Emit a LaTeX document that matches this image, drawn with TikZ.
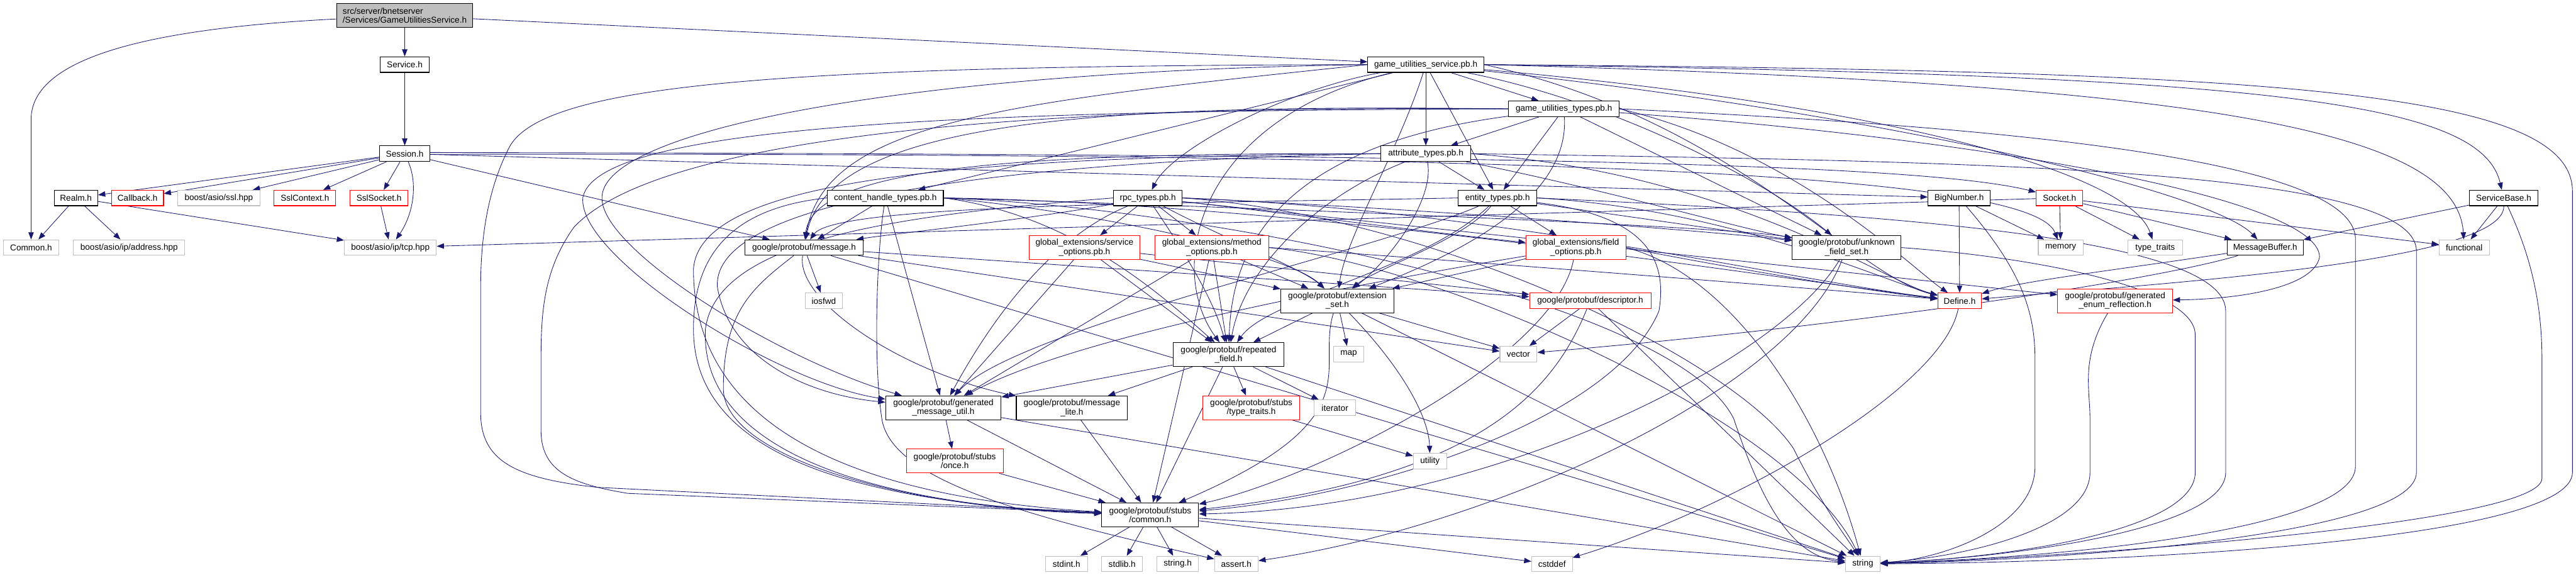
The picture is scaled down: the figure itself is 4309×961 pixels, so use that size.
\documentclass[tikz,border=0pt]{standalone}
\usepackage{fontspec}
\usetikzlibrary{arrows.meta}
\newfontfamily\nf{Liberation Sans}
\definecolor{eb}{HTML}{191970}
\definecolor{gb}{HTML}{BFBFBF}
\definecolor{rb}{HTML}{FF0000}
\pgfdeclarelayer{bg}
\pgfsetlayers{bg,main}
\tikzset{
  bx/.style={draw=black, fill=white, line width=1.1pt, minimum height=26pt, inner sep=0pt, align=center, font=\nf\fontsize{14.3pt}{15pt}\selectfont},
  tall/.style={minimum height=40pt},
  rbx/.style={bx, draw=rb},
  gbx/.style={bx, draw=gb},
  rootbx/.style={bx, fill=gb, align=left},
  e/.style={draw=eb, line width=0.9pt, -{Triangle[length=12pt,width=9pt]}}
}
\begin{document}
\begin{tikzpicture}[x=1pt,y=1pt]
\useasboundingbox (0,0) rectangle (4309,-961);
% nodes
\node[rootbx,tall,minimum width=228pt] (R) at (677,-26) {src/server/bnetserver\\/Services/GameUtilitiesService.h};
\node[bx,minimum width=82pt] (service) at (677,-108) {Service.h};
\node[bx,minimum width=84pt] (session) at (677,-257) {Session.h};
\node[bx,minimum width=73pt] (realm) at (127,-331) {Realm.h};
\node[rbx,minimum width=87pt] (callback) at (230,-331) {Callback.h};
\node[gbx,minimum width=138pt] (ssl) at (366,-331) {boost/asio/ssl.hpp};
\node[rbx,minimum width=103pt] (sslctx) at (510,-331) {SslContext.h};
\node[rbx,minimum width=97pt] (sslsock) at (634,-331) {SslSocket.h};
\node[gbx,minimum width=92pt] (common) at (52,-414) {Common.h};
\node[gbx,minimum width=186pt] (addr) at (216,-414) {boost/asio/ip/address.hpp};
\node[gbx,minimum width=154pt] (tcp) at (653,-414) {boost/asio/ip/tcp.hpp};
\node[bx,minimum width=194pt] (cht) at (1481,-331) {content\_handle\_types.pb.h};
\node[bx,minimum width=115pt] (rpc) at (1920,-331) {rpc\_types.pb.h};
\node[bx,minimum width=198pt] (msg) at (1345,-414) {google/protobuf/message.h};
\node[rbx,tall,minimum width=185pt] (so) at (1814,-414) {global\_extensions/service\\\_options.pb.h};
\node[rbx,tall,minimum width=191pt] (mo) at (2027,-414) {global\_extensions/method\\\_options.pb.h};
\node[bx,minimum width=194pt] (gus) at (2385,-108) {game\_utilities\_service.pb.h};
\node[bx,minimum width=185pt] (gut) at (2616,-182) {game\_utilities\_types.pb.h};
\node[bx,minimum width=151pt] (at) at (2385,-257) {attribute\_types.pb.h};
\node[bx,minimum width=131pt] (et) at (2505,-331) {entity\_types.pb.h};
\node[rbx,tall,minimum width=167pt] (fo) at (2636,-414) {global\_extensions/field\\\_options.pb.h};
\node[bx,tall,minimum width=182pt] (ufs) at (3089,-414) {google/protobuf/unknown\\\_field\_set.h};
\node[bx,minimum width=104pt] (bign) at (3277,-331) {BigNumber.h};
\node[rbx,minimum width=78pt] (sock) at (3445,-331) {Socket.h};
\node[bx,minimum width=114pt] (sbase) at (4188,-331) {ServiceBase.h};
\node[gbx,minimum width=75pt] (memory) at (3447,-414) {memory};
\node[gbx,minimum width=91pt] (ttraits) at (3605,-414) {type\_traits};
\node[bx,minimum width=127pt] (mbuf) at (3789,-414) {MessageBuffer.h};
\node[gbx,minimum width=84pt] (functional) at (4122,-414) {functional};
\node[gbx,minimum width=62pt] (iosfwd) at (1378,-503) {iosfwd};
\node[bx,tall,minimum width=189pt] (es) at (2237,-503) {google/protobuf/extension\\\_set.h};
\node[rbx,minimum width=203pt] (desc) at (2660,-503) {google/protobuf/descriptor.h};
\node[rbx,minimum width=73pt] (define) at (3278,-503) {Define.h};
\node[rbx,tall,minimum width=192pt] (ger) at (3538,-503) {google/protobuf/generated\\\_enum\_reflection.h};
\node[bx,tall,minimum width=186pt] (rf) at (2055,-593) {google/protobuf/repeated\\\_field.h};
\node[gbx,minimum width=51pt] (map) at (2256,-592) {map};
\node[gbx,minimum width=62pt] (vector) at (2540,-592) {vector};
\node[bx,tall,minimum width=193pt] (gmu) at (1578,-682) {google/protobuf/generated\\\_message\_util.h};
\node[bx,tall,minimum width=186pt] (ml) at (1793,-682) {google/protobuf/message\\\_lite.h};
\node[rbx,tall,minimum width=162pt] (sttraits) at (2093,-682) {google/protobuf/stubs\\/type\_traits.h};
\node[gbx,minimum width=69pt] (iterator) at (2233,-682) {iterator};
\node[rbx,tall,minimum width=162pt] (once) at (1597,-771) {google/protobuf/stubs\\/once.h};
\node[gbx,minimum width=56pt] (utility) at (2392,-771) {utility};
\node[bx,tall,minimum width=162pt] (cmn) at (1924,-861) {google/protobuf/stubs\\/common.h};
\node[gbx,minimum width=70pt] (stdint) at (1784,-943) {stdint.h};
\node[gbx,minimum width=68pt] (stdlib) at (1877,-943) {stdlib.h};
\node[gbx,minimum width=69pt] (stringh) at (1970,-943) {string.h};
\node[gbx,minimum width=73pt] (assert) at (2068,-943) {assert.h};
\node[gbx,minimum width=68pt] (cstddef) at (2596,-943) {cstddef};
\node[gbx,minimum width=58pt] (string) at (3116,-943) {string};
% edges
\begin{pgfonlayer}{bg}
\fill[white] (0,0) rectangle (4309,-961);
% root
\draw[e] (R) .. controls (200,-50) and (52,-110) .. (52,-200) -- (common);
\draw[e] (R) -- (service);
\draw[e] (R) -- (gus);
\draw[e] (service) -- (session);
% Session
\draw[e] (session) -- (realm);
\draw[e] (session) -- (callback);
\draw[e] (session) -- (ssl);
\draw[e] (session) -- (sslctx);
\draw[e] (session) -- (sslsock);
\draw[e] (session) .. controls (700,-310) and (690,-360) .. (tcp);
\draw[e] (session) -- (msg);
\draw[e] (session) -- (bign);
\draw[e] ([yshift=2pt]session.east) .. controls (2400,-258) and (3200,-270) .. (sock);
\draw[e] ([yshift=-1pt]session.east) .. controls (2600,-255) and (3400,-290) .. (memory);
% Realm, SslSocket, Socket
\draw[e] (realm) -- (common);
\draw[e] (realm) -- (addr);
\draw[e] (realm) -- (tcp);
\draw[e] (sslsock) -- (tcp);
\draw[e] (sock) -- (tcp);
\draw[e] (sock) -- (memory);
\draw[e] (sock) -- (ttraits);
\draw[e] (sock) -- (mbuf);
\draw[e] (sock) -- (functional);
% BigNumber
\draw[e] (bign) -- (memory);
\draw[e] (bign) -- (define);
\draw[e] (bign) .. controls (3380,-450) and (3404,-520) .. (3404,-600) -- (3404,-780) .. controls (3404,-880) and (3250,-935) .. (string);
% ServiceBase
\draw[e] (sbase) -- (mbuf);
\draw[e] (sbase) -- (functional);
\draw[e] (sbase) .. controls (4190,-440) and (3600,-475) .. (define);
\draw[e] (sbase) .. controls (4230,-420) and (4252,-500) .. (4252,-600) -- (4252,-800) .. controls (4252,-880) and (3400,-935) .. (string);
% MessageBuffer
\draw[e] (mbuf) .. controls (3550,-450) and (3380,-470) .. (define);
\draw[e] (mbuf) .. controls (3600,-470) and (3100,-545) .. (vector);
% gus
\draw[e] (gus) -- (gut);
\draw[e] (gus) -- (at);
\draw[e] (gus) -- (et);
\draw[e] (gus) -- (cht);
\draw[e] (gus) .. controls (2150,-150) and (1960,-250) .. (rpc);
\draw[e] (gus) .. controls (2700,-170) and (2950,-300) .. (ufs);
\draw[e] (gus.east) .. controls (3800,-125) and (4150,-170) .. (sbase);
\draw[e] (gus.east) .. controls (3700,-140) and (4110,-220) .. (functional);
\draw[e] (gus) .. controls (3100,-170) and (3560,-280) .. (ttraits);
\draw[e] (gus) .. controls (3150,-190) and (3700,-320) .. (mbuf);
\draw[e] (gus.east) .. controls (3800,-118) and (4303,-150) .. (4303,-320) -- (4303,-790) .. controls (4303,-900) and (3600,-940) .. (string);
\draw[e] (gus.west) .. controls (1300,-110) and (900,-140) .. (850,-250) .. controls (815,-320) and (804,-400) .. (804,-480) -- (804,-690) .. controls (804,-770) and (860,-800) .. (1000,-815) -- (cmn);
\draw[e] (gus.west) .. controls (1700,-170) and (1380,-200) .. (msg);
\draw[e] (gus.west) .. controls (1500,-120) and (1000,-220) .. (1007,-333) .. controls (1010,-420) and (1300,-600) .. (gmu);
\draw[e] (gus) .. controls (2340,-250) and (2250,-400) .. (es);
\draw[e] (gus) .. controls (2000,-200) and (1950,-450) .. (rf);
\draw[e] (gus.east) .. controls (2900,-200) and (3100,-460) .. (define);
% gut
\draw[e] (gut) -- (at);
\draw[e] (gut) -- (et);
\draw[e] (gut) -- (ufs);
\draw[e] (gut) .. controls (2625,-330) and (2450,-420) .. (es);
\draw[e] (gut.west) .. controls (1900,-175) and (1390,-190) .. (msg);
\draw[e] (gut.west) .. controls (1600,-185) and (1000,-210) .. (975,-330) .. controls (965,-430) and (1300,-640) .. (gmu);
\draw[e] (gut.west) .. controls (1700,-175) and (1100,-230) .. (960,-380) .. controls (910,-450) and (905,-520) .. (905,-600) -- (905,-720) .. controls (905,-790) and (960,-810) .. (1050,-825) -- (cmn);
\draw[e] (gut) .. controls (2100,-250) and (2060,-450) .. (rf);
\draw[e] (gut.east) .. controls (3300,-210) and (3940,-260) .. (3940,-400) -- (3940,-780) .. controls (3940,-880) and (3500,-930) .. (string);
\draw[e] (gut) .. controls (3300,-230) and (3880,-330) .. (3880,-430) .. controls (3870,-480) and (3750,-500) .. (ger);
\draw[e] (gut.east) .. controls (3000,-250) and (3200,-450) .. (define);
% at
\draw[e] (at) -- (et);
\draw[e] (at) .. controls (2400,-330) and (2330,-430) .. (es);
\draw[e] (at) .. controls (2700,-320) and (2900,-380) .. (ufs);
\draw[e] (at.west) .. controls (1700,-255) and (1360,-280) .. (msg);
\draw[e] (at.west) .. controls (1600,-262) and (1170,-300) .. (1160,-450) .. controls (1160,-700) and (1400,-830) .. (cmn);
\draw[e] (at.west) .. controls (1700,-270) and (1190,-330) .. (1200,-480) .. controls (1220,-600) and (1350,-660) .. (gmu);
\draw[e] (at) .. controls (2200,-330) and (2080,-450) .. (rf);
\draw[e] (at.east) .. controls (3300,-270) and (4042,-280) .. (4042,-420) -- (4042,-790) .. controls (4042,-890) and (3500,-935) .. (string);
\draw[e] (at.east) .. controls (2900,-290) and (3150,-470) .. (define);
% et
\draw[e] (et) -- (fo);
\draw[e] (et) .. controls (2450,-400) and (2300,-450) .. (es);
\draw[e] (et) -- (ufs);
\draw[e] (et.west) .. controls (2000,-340) and (1400,-340) .. (msg);
\draw[e] (et) .. controls (2300,-420) and (1700,-550) .. (gmu);
\draw[e] (et) .. controls (2380,-450) and (2120,-500) .. (rf);
\draw[e] (et) .. controls (2750,-360) and (2790,-430) .. (2775,-520) .. controls (2700,-700) and (2300,-830) .. (cmn);
\draw[e] (et.east) .. controls (3200,-360) and (3723,-400) .. (3723,-520) -- (3723,-790) .. controls (3723,-880) and (3400,-930) .. (string);
\draw[e] (et.east) .. controls (2900,-350) and (3150,-470) .. (define);
% cht
\draw[e] (cht) -- (msg);
\draw[e] (cht) -- (gmu);
\draw[e] (cht.west) .. controls (1200,-350) and (1160,-450) .. (1160,-550) .. controls (1160,-750) and (1400,-840) .. (cmn);
\draw[e] (cht.east) .. controls (1800,-360) and (1950,-500) .. (rf);
\draw[e] (cht.east) .. controls (1800,-350) and (2150,-420) .. (es);
\draw[e] (cht.east) .. controls (2200,-350) and (2900,-380) .. (ufs);
\draw[e] (cht.east) .. controls (2200,-340) and (3000,-470) .. (define);
\draw[e] (cht.east) .. controls (2000,-345) and (2800,-500) .. (2900,-700) .. controls (2950,-850) and (3000,-930) .. (string);
\draw[e] (cht) .. controls (1467,-420) and (1460,-600) .. (1475,-700) .. controls (1490,-800) and (1700,-860) .. (assert);
% rpc
\draw[e] (rpc) -- (so);
\draw[e] (rpc) -- (mo);
\draw[e] (rpc) .. controls (2100,-350) and (2400,-390) .. (fo);
\draw[e] (rpc) .. controls (1700,-370) and (1500,-390) .. (msg);
\draw[e] (rpc) .. controls (1750,-400) and (1650,-550) .. (gmu);
\draw[e] (rpc.west) .. controls (1500,-360) and (1200,-400) .. (1180,-550) .. controls (1170,-750) and (1450,-845) .. (cmn);
\draw[e] (rpc) .. controls (1980,-420) and (2030,-500) .. (rf);
\draw[e] (rpc) .. controls (2050,-400) and (2180,-450) .. (es);
\draw[e] (rpc.east) .. controls (2400,-350) and (2900,-390) .. (ufs);
\draw[e] (rpc.east) .. controls (2500,-350) and (3000,-470) .. (define);
\draw[e] (rpc) -- (ger);
\draw[e] (rpc.east) .. controls (2400,-360) and (2900,-600) .. (3000,-750) .. controls (3050,-850) and (3090,-900) .. (string);
% extension pb files
\draw[e] (so) -- (gmu);
\draw[e] (so) -- (rf);
\draw[e] (so) -- (es);
\draw[e] (so) -- (desc);
\draw[e] (mo) -- (gmu);
\draw[e] (mo) -- (rf);
\draw[e] (mo) -- (es);
\draw[e] (mo) -- (cmn);
\draw[e] (mo.east) .. controls (2400,-440) and (3000,-700) .. (string);
\draw[e] (mo.east) .. controls (2500,-440) and (3000,-480) .. (define);
\draw[e] (fo) .. controls (2300,-470) and (1800,-560) .. (gmu);
\draw[e] (fo) -- (es);
\draw[e] (fo) .. controls (2600,-600) and (2200,-800) .. (cmn);
\draw[e] (fo.east) .. controls (2900,-450) and (3150,-490) .. (define);
\draw[e] (fo.east) .. controls (2900,-460) and (3050,-700) .. (string);
% message.h
\draw[e] (msg) -- (iosfwd);
\draw[e] (msg) .. controls (1330,-500) and (1500,-620) .. (ml);
\draw[e] (msg) .. controls (1260,-480) and (1210,-520) .. (1210,-650) .. controls (1210,-760) and (1500,-850) .. (cmn);
\draw[e] (msg) -- (vector);
\draw[e] (msg) -- (desc);
\draw[e] (msg) -- (string);
% lower nodes
\draw[e] (ml) -- (cmn);
\draw[e] (once) -- (cmn);
\draw[e] (gmu) -- (once);
\draw[e] (gmu) -- (cmn);
\draw[e] (gmu) -- (string);
\draw[e] (rf) -- (gmu);
\draw[e] (rf) -- (ml);
\draw[e] (rf) -- (sttraits);
\draw[e] (rf) -- (iterator);
\draw[e] (rf) -- (cmn);
\draw[e] (rf) -- (string);
\draw[e] (sttraits) -- (utility);
\draw[e] (es) -- (rf);
\draw[e] (es) -- (map);
\draw[e] (es) -- (vector);
\draw[e] (es) .. controls (2350,-620) and (2390,-700) .. (utility);
\draw[e] (es) -- (string);
\draw[e] (es) .. controls (2200,-620) and (2300,-700) .. (cmn);
\draw[e] (desc) -- (vector);
\draw[e] (desc) -- (string);
\draw[e] (desc) .. controls (2600,-650) and (2480,-800) .. (cmn);
\draw[e] (ufs) .. controls (2980,-600) and (2500,-850) .. (cmn);
\draw[e] (ufs) .. controls (3000,-650) and (2500,-880) .. (assert);
\draw[e] (ufs.east) .. controls (3400,-430) and (3672,-480) .. (3672,-560) -- (3672,-790) .. controls (3672,-880) and (3400,-930) .. (string);
\draw[e] (define) .. controls (3250,-650) and (2900,-850) .. (cstddef);
\draw[e] (ger) .. controls (3480,-600) and (3496,-650) .. (3496,-700) -- (3496,-790) .. controls (3496,-880) and (3300,-930) .. (string);
\draw[e] (cmn) -- (stdint);
\draw[e] (cmn) -- (stdlib);
\draw[e] (cmn) -- (stringh);
\draw[e] (cmn) -- (assert);
\draw[e] (cmn) -- (cstddef);
\draw[e] (cmn) -- (string);
\end{pgfonlayer}
\end{tikzpicture}
\end{document}
